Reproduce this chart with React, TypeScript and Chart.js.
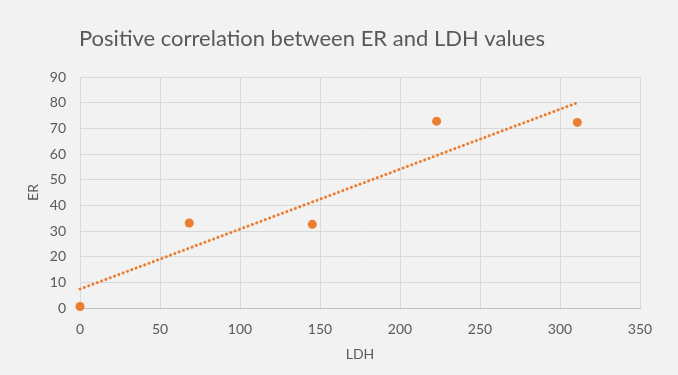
import { useEffect, useRef } from 'react';
import { Chart, registerables } from 'chart.js';

Chart.register(...registerables);

const chartTitle = 'Positive correlation between ER and LDH values';
const xAxisTitle = 'LDH';
const yAxisTitle = 'ER';

const ldhValues = [0, 68.3, 145.2, 222.9, 310.8];
const erValues = [0.6, 33.1, 32.6, 72.8, 72.3];

const xTickRange = [0, 350, 50];
const yTickRange = [0, 90, 10];

const ORANGE = '#ED7D31';
const TEXT = '#595959';
const GRID = '#d9d9d9';
const FONT = 'Lato, "Open Sans", sans-serif';

function regression(xs: number[], ys: number[]) {
  const n = xs.length;
  const mx = xs.reduce((a, b) => a + b, 0) / n;
  const my = ys.reduce((a, b) => a + b, 0) / n;
  let sxy = 0;
  let sxx = 0;
  for (let i = 0; i < n; i++) {
    sxy += (xs[i] - mx) * (ys[i] - my);
    sxx += (xs[i] - mx) * (xs[i] - mx);
  }
  const slope = sxy / sxx;
  return { slope, intercept: my - slope * mx };
}

export default function App() {
  const ref = useRef<HTMLCanvasElement | null>(null);

  useEffect(() => {
    document.body.style.margin = '0';
    const canvas = ref.current;
    if (!canvas) return;

    const { slope, intercept } = regression(ldhValues, erValues);
    const x0 = Math.min(...ldhValues);
    const x1 = Math.max(...ldhValues);
    const trend = [
      { x: x0, y: intercept + slope * x0 },
      { x: x1, y: intercept + slope * x1 },
    ];

    const bgPlugin = {
      id: 'bg',
      beforeDraw(chart: any) {
        const ctx = chart.ctx;
        ctx.save();
        ctx.fillStyle = '#f2f2f2';
        ctx.fillRect(0, 0, chart.width, chart.height);
        ctx.restore();
      },
    };

    const titlePlugin = {
      id: 'customTitle',
      afterDraw(chart: any) {
        const ctx = chart.ctx;
        ctx.save();
        ctx.font = `22px ${FONT}`;
        ctx.fillStyle = TEXT;
        ctx.textAlign = 'center';
        ctx.textBaseline = 'alphabetic';
        ctx.fillText(chartTitle, 312, 46);
        ctx.restore();
      },
    };

    const chart = new Chart(canvas, {
      type: 'scatter',
      data: {
        datasets: [
          {
            type: 'line',
            label: 'Trend',
            data: trend,
            borderColor: ORANGE,
            borderWidth: 3,
            borderDash: [0.1, 4.5],
            borderCapStyle: 'round',
            pointRadius: 0,
            fill: false,
            clip: false,
            order: 2,
          } as any,
          {
            label: 'ER',
            data: ldhValues.map((x, i) => ({ x, y: erValues[i] })),
            backgroundColor: ORANGE,
            borderColor: ORANGE,
            pointRadius: 4.5,
            pointBorderWidth: 0,
            clip: false,
            order: 1,
          } as any,
        ],
      },
      options: {
        animation: false,
        responsive: false,
        maintainAspectRatio: false,
        layout: { padding: { top: 77, right: 38, left: 0, bottom: 0 } },
        plugins: {
          legend: { display: false },
          title: { display: false },
          tooltip: { enabled: false },
        },
        scales: {
          x: {
            type: 'linear',
            min: xTickRange[0],
            max: xTickRange[1],
            ticks: {
              stepSize: xTickRange[2],
              color: TEXT,
              font: { family: FONT, size: 14 },
              padding: 13,
            },
            grid: { color: GRID, drawTicks: false },
            border: { color: '#bfbfbf', width: 1 },
            title: {
              display: true,
              text: xAxisTitle,
              color: TEXT,
              font: { family: FONT, size: 14 },
              padding: { top: 0, bottom: 12 },
            },
            afterFit(scale: any) {
              scale.height = 67;
            },
          },
          y: {
            type: 'linear',
            min: yTickRange[0],
            max: yTickRange[1],
            ticks: {
              stepSize: yTickRange[2],
              color: TEXT,
              font: { family: FONT, size: 14 },
              padding: 14,
            },
            grid: { color: GRID, drawTicks: false },
            border: { color: GRID, width: 1 },
            title: {
              display: true,
              text: yAxisTitle,
              color: TEXT,
              font: { family: FONT, size: 14 },
              padding: { top: 25, bottom: 0 },
            },
            afterFit(scale: any) {
              scale.width = 80;
            },
          },
        },
      },
      plugins: [bgPlugin, titlePlugin],
    });

    return () => chart.destroy();
  }, []);

  return (
    <div style={{ position: 'absolute', left: 0, top: 0, width: 678, height: 375 }}>
      <canvas ref={ref} width={678} height={375} style={{ display: 'block' }} />
    </div>
  );
}
